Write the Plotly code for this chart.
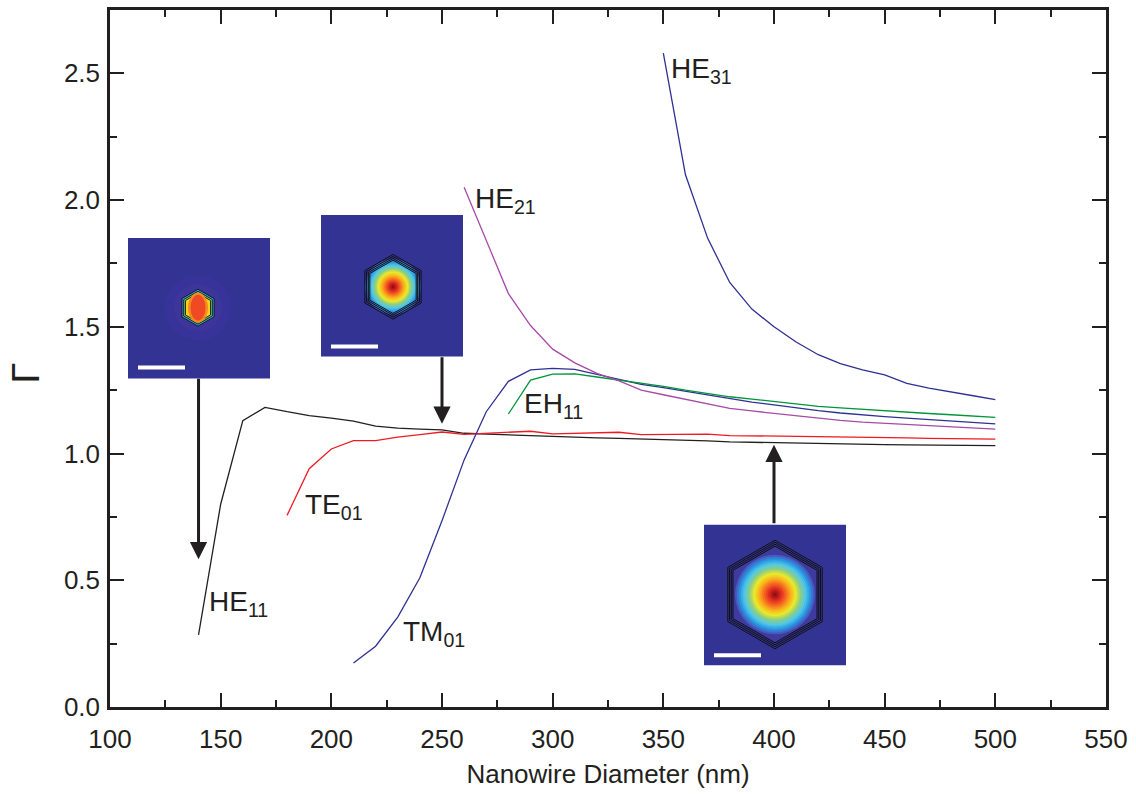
import math
import plotly.graph_objects as go

# ---------------- data ----------------
he11_x = [140, 150, 160, 170, 180, 190, 200, 210, 220, 230, 240, 250, 260, 270, 280, 290, 300,
          310, 320, 330, 340, 350, 360, 370, 380, 390, 400, 410, 420, 430, 440, 450, 460, 470,
          480, 490, 500]
he11_y = [0.285, 0.80, 1.13, 1.182, 1.165, 1.15, 1.14, 1.128, 1.108, 1.10, 1.096, 1.093, 1.080,
          1.077, 1.074, 1.071, 1.066, 1.064, 1.062, 1.060, 1.058, 1.056, 1.054, 1.050, 1.046,
          1.044, 1.042, 1.041, 1.041, 1.039, 1.037, 1.035, 1.034, 1.033, 1.032, 1.031, 1.031]

te01_x = [180, 190, 200, 210, 220, 230, 240, 250, 260, 270, 280, 290, 300, 310, 320, 330, 340,
          350, 360, 370, 380, 390, 400, 410, 420, 430, 440, 450, 460, 470, 480, 490, 500]
te01_y = [0.756, 0.94, 1.018, 1.051, 1.051, 1.065, 1.075, 1.085, 1.076, 1.080, 1.083, 1.088,
          1.078, 1.080, 1.082, 1.084, 1.075, 1.076, 1.077, 1.077, 1.071, 1.070, 1.070, 1.068,
          1.067, 1.066, 1.065, 1.064, 1.062, 1.060, 1.059, 1.058, 1.057]

tm01_x = [210, 220, 230, 240, 250, 260, 270, 280, 290, 300, 310, 320, 330, 340, 350, 360, 370,
          380, 390, 400, 410, 420, 430, 440, 450, 460, 470, 480, 490, 500]
tm01_y = [0.174, 0.24, 0.355, 0.51, 0.735, 0.975, 1.165, 1.285, 1.33, 1.336, 1.332, 1.313,
          1.295, 1.273, 1.26, 1.245, 1.232, 1.215, 1.203, 1.192, 1.180, 1.169, 1.160, 1.152,
          1.146, 1.140, 1.134, 1.128, 1.122, 1.117]

eh11_x = [280, 290, 300, 310, 320, 330, 340, 350, 360, 370, 380, 390, 400, 410, 420, 430, 440,
          450, 460, 470, 480, 490, 500]
eh11_y = [1.156, 1.29, 1.313, 1.314, 1.302, 1.29, 1.276, 1.265, 1.25, 1.238, 1.224, 1.215,
          1.205, 1.195, 1.186, 1.180, 1.174, 1.168, 1.163, 1.158, 1.153, 1.148, 1.143]

he21_x = [260, 270, 280, 290, 300, 310, 320, 330, 340, 350, 360, 370, 380, 390, 400, 410, 420,
          430, 440, 450, 460, 470, 480, 490, 500]
he21_y = [2.051, 1.84, 1.631, 1.505, 1.412, 1.358, 1.316, 1.287, 1.250, 1.232, 1.215, 1.195,
          1.178, 1.168, 1.158, 1.148, 1.139, 1.131, 1.124, 1.119, 1.114, 1.109, 1.104, 1.100,
          1.096]

he31_x = [350, 360, 370, 380, 390, 400, 410, 420, 430, 440, 450, 460, 470, 480, 490, 500]
he31_y = [2.58, 2.10, 1.85, 1.675, 1.57, 1.50, 1.44, 1.39, 1.355, 1.33, 1.31, 1.277, 1.258,
          1.242, 1.228, 1.213]

x_ticks = [100, 150, 200, 250, 300, 350, 400, 450, 500, 550]
y_ticks = [0.0, 0.5, 1.0, 1.5, 2.0, 2.5]

# ---------------- styling ----------------
FONT = "Liberation Sans, Arial, Helvetica, sans-serif"
INK = "#231f20"
W, H = 1136, 796
L, R, T, B = 110, 1106, 7, 707
PW, PH = R - L, B - T

series = [
    (he11_x, he11_y, "#231f20"),
    (te01_x, te01_y, "#ed1c24"),
    (tm01_x, tm01_y, "#2e3192"),
    (eh11_x, eh11_y, "#00953a"),
    (he21_x, he21_y, "#a54aa8"),
    (he31_x, he31_y, "#2e3192"),
]

fig = go.Figure()
for xs, ys, c in series:
    fig.add_trace(go.Scatter(x=xs, y=ys, mode="lines", line=dict(color=c, width=1.3),
                             showlegend=False, hoverinfo="skip"))


def px(x):
    return (x - L) / PW


def py(y):
    return (B - y) / PH


shapes = []
BG = "#333393"


def rect(x0, y0, x1, y1, color):
    shapes.append(dict(type="rect", xref="paper", yref="paper", x0=px(x0), x1=px(x1),
                       y0=py(y1), y1=py(y0), fillcolor=color, line=dict(width=0)))


def ellipse(cx, cy, rx, ry, color):
    shapes.append(dict(type="circle", xref="paper", yref="paper", x0=px(cx - rx), x1=px(cx + rx),
                       y0=py(cy + ry), y1=py(cy - ry), fillcolor=color, line=dict(width=0)))


def hexagon(cx, cy, r, fill=None, lw=1.0):
    pts = []
    for k in range(6):
        a = math.radians(90 - 60 * k)
        pts.append((px(cx + r * math.cos(a)), py(cy - r * math.sin(a))))
    path = "M " + " L ".join(f"{a:.5f},{b:.5f}" for a, b in pts) + " Z"
    d = dict(type="path", xref="paper", yref="paper", path=path,
             line=dict(color="#111111", width=lw))
    if fill:
        d["fillcolor"] = fill
    shapes.append(d)


# jet-like palette anchors (outer -> centre)
anchors = [(0.0, (70, 90, 190)), (0.1, (40, 150, 225)), (0.22, (80, 200, 235)),
           (0.35, (140, 205, 130)), (0.48, (235, 235, 40)), (0.6, (250, 180, 30)),
           (0.72, (244, 115, 32)), (0.84, (232, 50, 35)), (1.0, (150, 15, 20))]


def jet(t):
    for (t0, c0), (t1, c1) in zip(anchors[:-1], anchors[1:]):
        if t <= t1:
            f = (t - t0) / (t1 - t0)
            c = [round(a + (b - a) * f) for a, b in zip(c0, c1)]
            return f"rgb({c[0]},{c[1]},{c[2]})"
    c = anchors[-1][1]
    return f"rgb({c[0]},{c[1]},{c[2]})"


def mode_disk(cx, cy, r, n=22):
    for i in range(n):
        t = i / (n - 1)
        rr = r * (1 - i / n)
        ellipse(cx, cy, rr, rr, jet(t))


# Inset 1 (HE11, small wire)
rect(128, 236, 270, 377, BG)
ellipse(198, 306, 33, 33, "#37339a")
ellipse(198, 306, 24, 24, "#3d3599")
hexagon(198, 306, 18.5, fill="#31a8d8", lw=0.9)
hexagon(198, 306, 16.5, fill="#7cc576", lw=0.9)
hexagon(198, 306, 14.5, fill="#f7d21a", lw=0.9)
ellipse(198, 306, 10, 15, "#f68b1f")
ellipse(198, 306, 7.5, 13, "#ef4a24")
rect(138, 364, 185, 368, "white")

# Inset 2 (250 nm)
rect(321, 213, 463, 355, BG)
mode_disk(393, 285, 28)
for r in (32.5, 30.5, 28.5, 26.8):
    hexagon(393, 285, r, lw=1.0)
rect(331, 343, 378, 347, "white")

# Inset 3 (400 nm)
rect(704, 524, 846, 665, BG)
hexagon(775, 594, 48.5, fill="#3f3a9e", lw=0)
mode_disk(775, 594, 40)
for r in (54.5, 52.5, 50.5, 48.5):
    hexagon(775, 594, r, lw=1.0)
rect(714, 653, 761, 657, "white")

# ---------------- annotations ----------------
ann = []


def label(x, y, main, sub):
    ann.append(dict(x=x, y=y, xref="x", yref="y", xanchor="left", yanchor="middle",
                    text=f"{main}<sub>{sub}</sub>", showarrow=False,
                    font=dict(family=FONT, size=28, color=INK)))


label(144.0, 0.41, "HE", "11")
label(187.0, 0.79, "TE", "01")
label(231.5, 0.29, "TM", "01")
label(286.0, 1.19, "EH", "11")
label(264.2, 2.00, "HE", "21")
label(352.4, 2.51, "HE", "31")


def arrow(x, y, ay):
    ann.append(dict(x=x, y=y, xref="x", yref="y", ax=0, ay=ay, text="", showarrow=True,
                    arrowhead=2, arrowsize=1.15, arrowwidth=3, arrowcolor=INK))


arrow(140, 0.583, -182)
arrow(250, 1.118, -68)
arrow(400, 1.035, 80)

# y-axis title as rotated text
ann.append(dict(x=px(26), y=py(372), xref="paper", yref="paper", text="Γ", textangle=-90,
                showarrow=False, xanchor="center", yanchor="middle",
                font=dict(family=FONT, size=38, color=INK)))

axis_common = dict(showline=True, linecolor=INK, linewidth=2.5, mirror="allticks",
                   ticks="inside", ticklen=14, tickwidth=2, tickcolor=INK,
                   showgrid=False, zeroline=False,
                   tickfont=dict(family=FONT, size=26, color=INK))

fig.update_layout(
    width=W, height=H,
    margin=dict(l=L, r=W - R, t=T, b=H - B),
    paper_bgcolor="white", plot_bgcolor="white",
    xaxis=dict(range=[100, 550], tickvals=x_ticks,
               minor=dict(dtick=25, tick0=100, ticks="inside", ticklen=7, tickwidth=2, tickcolor=INK),
               title=dict(text="Nanowire Diameter (nm)", font=dict(family=FONT, size=26, color=INK),
                          standoff=12),
               ticklabelstandoff=7, **axis_common),
    yaxis=dict(range=[0, 2.75], tickvals=y_ticks, tickformat=".1f",
               minor=dict(dtick=0.25, tick0=0, ticks="inside", ticklen=7, tickwidth=2, tickcolor=INK),
               ticklabelstandoff=2, **axis_common),
    shapes=shapes,
    annotations=ann,
)

fig.write_html("out.html")
